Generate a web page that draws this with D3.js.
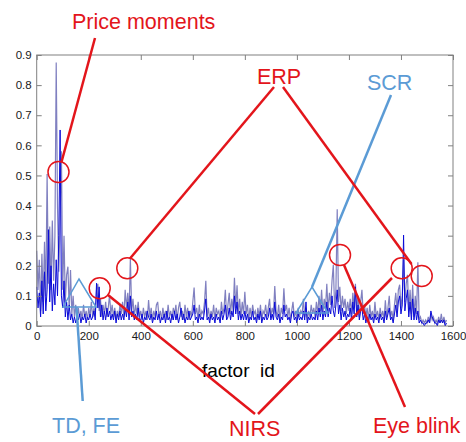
<!DOCTYPE html>
<html>
<head>
<meta charset="utf-8">
<script src="https://cdn.jsdelivr.net/npm/d3@7"></script>
<style>
body { margin: 0; background: #fff; }
svg { display: block; font-family: "Liberation Sans", Arial, sans-serif; }
</style>
</head>
<body>
<svg id="chart"></svg>
<script>
// factor ids are sampled every 5 (0..1575)
const STEP = 5;

// light series, factor id 0-395 / 400-795 / 800-1195 / 1200-1575
const greyA = [.25,.12,.22,.05,.24,.08,.28,.10,.505,.14, .33,.12,.35,.15,.30,.875,.396,.18,.36,.58,
  .12,.30,.08,.17,.197,.05,.186,.04,.10,.03, .07,.02,.06,.03,.05,.02,.07,.03,.05,.02,
  .06,.03,.08,.03,.06,.04,.12,.14,.05,.09, .03,.07,.04,.08,.03,.06,.103,.04,.07,.03,
  .06,.02,.05,.03,.07,.04,.08,.03,.12,.06, .11,.04,.225,.05,.09,.03,.07,.04,.08,.03];
const greyB = [.05,.02,.06,.03,.05,.02,.086,.03,.06,.02, .05,.03,.07,.08,.03,.05,.02,.06,.03,.05,
  .02,.07,.03,.05,.02,.06,.04,.07,.02,.06, .08,.03,.05,.02,.07,.03,.06,.02,.05,.03,
  .08,.128,.04,.06,.02,.07,.03,.05,.04,.08, .15,.03,.06,.02,.05,.03,.07,.02,.06,.04,
  .05,.02,.08,.04,.06,.12,.03,.07,.11,.04, .09,.05,.16,.06,.135,.04,.09,.03,.08,.04];
const greyC = [.114,.04,.07,.02,.06,.03,.07,.04,.05,.02, .06,.03,.07,.02,.05,.04,.07,.03,.06,.09,
  .03,.06,.04,.133,.05,.03,.07,.02,.06,.04, .125,.05,.07,.03,.06,.02,.05,.08,.03,.05,
  .02,.06,.03,.05,.04,.09,.03,.06,.02,.05, .03,.07,.04,.06,.03,.08,.04,.10,.05,.12,
  .04,.09,.06,.14,.05,.11,.07,.15,.203,.06, .12,.388,.08,.13,.05,.10,.06,.09,.04,.08];
const greyD = [.05,.09,.04,.11,.06,.14,.05,.10,.03,.08, .12,.04,.07,.03,.06,.02,.07,.03,.05,.02,
  .08,.03,.05,.02,.06,.03,.05,.02,.085,.03, .06,.10,.03,.05,.02,.07,.11,.05,.12,.137,
  .06,.10,.22,.08,.14,.17,.05,.12,.04,.137, .03,.10,.04,.212,.02,.03,.01,.02,.01,.02,
  .01,.03,.01,.04,.02,.03,.01,.02,.01,.03, .01,.04,.01,.03,.01,.02];

// dark blue series, same ranges
const blueA = [.13,.06,.11,.03,.15,.04,.18,.05,.12,.32, .08,.20,.05,.14,.07,.22,.10,.30,.651,.10,
  .06,.15,.03,.08,.02,.07,.02,.04,.01,.03, .01,.03,.02,.04,.01,.03,.02,.04,.01,.03,
  .02,.04,.02,.03,.05,.02,.142,.06,.13,.03, .07,.02,.05,.02,.06,.03,.05,.02,.04,.02,
  .05,.01,.04,.02,.05,.02,.04,.02,.06,.03, .08,.02,.10,.03,.05,.02,.04,.02,.06,.02];
const blueB = [.02,.04,.01,.03,.02,.05,.03,.02,.04,.01, .03,.02,.05,.02,.04,.01,.03,.02,.04,.01,
  .05,.02,.03,.01,.04,.02,.05,.02,.04,.01, .03,.06,.02,.04,.01,.03,.02,.05,.02,.03,
  .04,.07,.02,.03,.01,.04,.02,.03,.02,.05, .09,.02,.03,.01,.04,.02,.03,.01,.04,.02,
  .03,.01,.05,.02,.04,.07,.02,.03,.06,.02, .05,.03,.10,.04,.08,.02,.05,.02,.04,.02];
const blueC = [.05,.02,.04,.01,.03,.02,.05,.02,.03,.01, .04,.02,.05,.01,.03,.02,.04,.02,.03,.06,
  .02,.04,.02,.08,.03,.02,.04,.01,.03,.02, .07,.03,.04,.02,.03,.01,.04,.05,.02,.03,
  .01,.04,.02,.03,.02,.05,.02,.08,.01,.03, .02,.04,.02,.03,.02,.05,.02,.06,.03,.07,
  .02,.05,.03,.08,.03,.06,.04,.10,.05,.03, .07,.12,.04,.07,.02,.06,.03,.05,.02,.04];
const blueD = [.03,.06,.02,.08,.04,.13,.03,.07,.02,.05, .06,.02,.04,.01,.03,.01,.04,.02,.03,.01,
  .04,.02,.03,.01,.04,.02,.03,.01,.05,.02, .04,.06,.02,.03,.01,.04,.07,.03,.08,.10,
  .04,.07,.302,.05,.09,.12,.03,.08,.02,.09, .02,.06,.02,.05,.01,.02,.01,.01,0,.01,
  .01,.02,.01,.05,.03,.02,.01,.01,0,.02, .01,.02,.01,.02,0,.01];

const xTicks = [0, 200, 400, 600, 800, 1000, 1200, 1400, 1600];
const yTicks = [0, .1, .2, .3, .4, .5, .6, .7, .8, .9];

const W = 466, H = 442;
const svg = d3.select("#chart").attr("width", W).attr("height", H);

const x = d3.scaleLinear().domain([0, 1600]).range([36.7, 453]);
const y = d3.scaleLinear().domain([0, 0.9]).range([326, 55]);

const grey = greyA.concat(greyB, greyC, greyD);
const blue = blueA.concat(blueB, blueC, blueD);

const line = d3.line()
    .x((d, i) => x(i * STEP))
    .y(d => y(d));

svg.append("path").datum(grey)
    .attr("d", line)
    .attr("fill", "none")
    .attr("stroke", "#8080c0")
    .attr("stroke-width", 1.2);

svg.append("path").datum(blue)
    .attr("d", line)
    .attr("fill", "none")
    .attr("stroke", "#0a0ad8")
    .attr("stroke-width", 1);

// frame
svg.append("rect")
    .attr("x", x(0)).attr("y", y(0.9))
    .attr("width", x(1600) - x(0)).attr("height", y(0) - y(0.9))
    .attr("fill", "none").attr("stroke", "#808080");

const styleAxis = g => {
    g.select(".domain").remove();
    g.selectAll(".tick line").attr("stroke", "#808080");
    g.selectAll("text").attr("fill", "#1a1a1a").style("font-size", "11.5px");
};

svg.append("g")
    .attr("transform", `translate(0,${y(0)})`)
    .call(d3.axisBottom(x).tickValues(xTicks).tickSizeInner(-5).tickSizeOuter(0).tickPadding(6).tickFormat(d3.format("d")))
    .call(styleAxis);

svg.append("g")
    .attr("transform", `translate(0,${y(0.9)})`)
    .call(d3.axisTop(x).tickValues(xTicks).tickSizeInner(-5).tickSizeOuter(0).tickFormat(""))
    .call(styleAxis);

svg.append("g")
    .attr("transform", `translate(${x(0)},0)`)
    .call(d3.axisLeft(y).tickValues(yTicks).tickSizeInner(-5).tickSizeOuter(0).tickPadding(5)
        .tickFormat(d => d === 0 ? "0" : d.toFixed(1)))
    .call(styleAxis);

svg.append("g")
    .attr("transform", `translate(${x(1600)},0)`)
    .call(d3.axisRight(y).tickValues(yTicks).tickSizeInner(-5).tickSizeOuter(0).tickFormat(""))
    .call(styleAxis);

svg.append("text")
    .attr("x", 202).attr("y", 377)
    .style("white-space", "pre")
    .style("font-size", "19px")
    .attr("fill", "#000")
    .text("factor  id");

// annotations
const red = "#e3151b", sky = "#5b9bd5";

const redLines = [[95, 38, 61.5, 162], [274, 87, 130, 258.5], [283, 87, 411.5, 264],
                  [108, 295, 255, 414], [258, 414, 392, 278], [344, 265, 405, 407]];
const skyLines = [[391, 95, 312, 287], [76.5, 307, 82.7, 401]];
const triangles = [[[63, 307], [79, 279], [96, 307]], [[296, 313], [312, 287], [328, 313]]];
const circles = [[58.5, 172], [127.3, 268.3], [99.7, 288.3], [340, 255], [401.7, 268.3], [421.7, 276]];
const labels = [
    ["Price moments", 72, 29, red], ["ERP", 257, 84, red], ["SCR", 367, 90, sky],
    ["TD, FE", 52, 433, sky], ["NIRS", 229, 436, red], ["Eye blink", 373, 433, red]
];

svg.append("g").selectAll("polygon")
    .data(triangles)
    .enter().append("polygon")
    .attr("points", d => d.map(p => p.join(",")).join(" "))
    .attr("fill", "none")
    .attr("stroke", sky)
    .attr("stroke-width", 1.5);

svg.append("g").selectAll("line")
    .data(skyLines)
    .enter().append("line")
    .attr("x1", d => d[0]).attr("y1", d => d[1])
    .attr("x2", d => d[2]).attr("y2", d => d[3])
    .attr("stroke", sky)
    .attr("stroke-width", 2.5);

svg.append("g").selectAll("line")
    .data(redLines)
    .enter().append("line")
    .attr("x1", d => d[0]).attr("y1", d => d[1])
    .attr("x2", d => d[2]).attr("y2", d => d[3])
    .attr("stroke", red)
    .attr("stroke-width", 2.5);

svg.append("g").selectAll("circle")
    .data(circles)
    .enter().append("circle")
    .attr("cx", d => d[0]).attr("cy", d => d[1])
    .attr("r", 10.5)
    .attr("fill", "none")
    .attr("stroke", red)
    .attr("stroke-width", 1.5);

svg.append("g").selectAll("text")
    .data(labels)
    .enter().append("text")
    .attr("x", d => d[1]).attr("y", d => d[2])
    .attr("fill", d => d[3])
    .style("font-size", "21.5px")
    .text(d => d[0]);
</script>
</body>
</html>
